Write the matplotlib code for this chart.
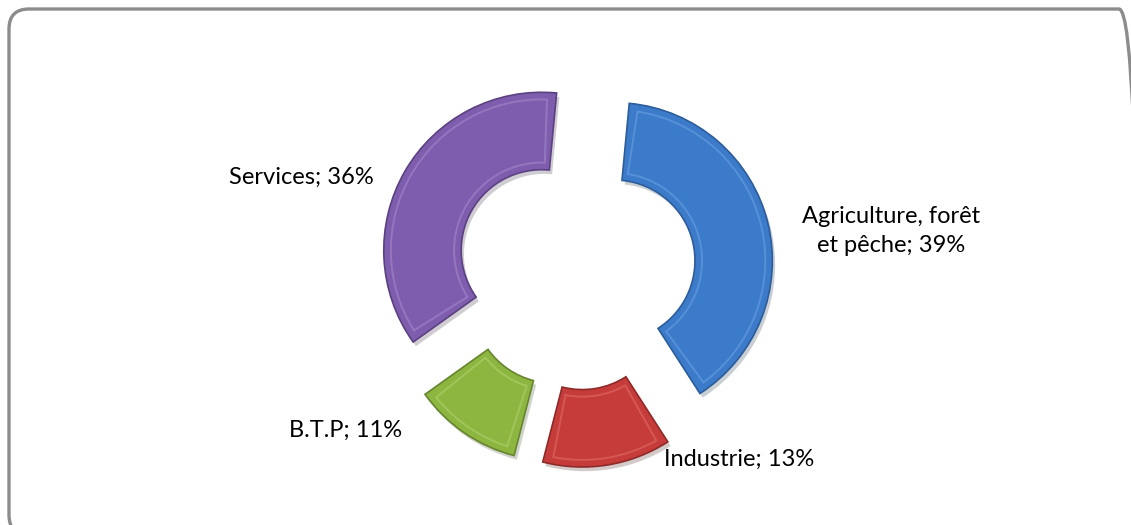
import matplotlib
matplotlib.use("Agg")
import matplotlib.pyplot as plt
import matplotlib.patches as mpatches
import matplotlib.patheffects as pe

categories = ["Agriculture, forêt\net pêche", "Industrie", "B.T.P", "Services"]
shares = [39, 13, 11, 36]
colors = ["#3C7BCA", "#C63C3A", "#8DB640", "#7F5DAE"]
edge_colors = ["#2C5C99", "#8E2A28", "#66852E", "#5B4180"]
highlight_colors = ["#7FB0EA", "#EB8381", "#BEDC82", "#B59CDB"]

W, H = 1131, 525
fig = plt.figure(figsize=(W / 100, H / 100), dpi=100)

# rounded frame, partly cut off at right and bottom like the original
frame = mpatches.FancyBboxPatch((9, -10), 1130, 526,
                                boxstyle="round,pad=0,rounding_size=20",
                                transform=None, facecolor="none",
                                edgecolor="#8C8C8C", linewidth=2.4)
fig.patches.append(frame)

# pie geometry in pixels
cx, cy, R = 576, 270, 158
ax = fig.add_axes([0, 0, 1, 1])
wedges, _ = ax.pie(shares, radius=1, startangle=84.6, counterclock=False,
                   explode=[0.25] * len(shares), colors=colors,
                   wedgeprops=dict(width=0.49, linewidth=1.2))
ax.set_aspect("auto")
ax.set_xlim(-cx / R, (W - cx) / R)
ax.set_ylim(-(H - cy) / R, cy / R)
ax.axis("off")

for w, ec, hc in zip(wedges, edge_colors, highlight_colors):
    w.set_edgecolor(ec)
    w.set_path_effects([pe.SimplePatchShadow(offset=(2, -3), alpha=0.22),
                        pe.Normal()])
    # inner bevel ridge
    d = 0.045
    r = w.r
    inner = r - w.width
    dt = d / ((r + inner) / 2) * 57.3
    ridge = mpatches.Wedge(w.center, r - d, w.theta1 + dt, w.theta2 - dt,
                           width=w.width - 2 * d, facecolor="none",
                           edgecolor=hc, linewidth=1.4, alpha=0.4)
    ax.add_patch(ridge)

# data labels (pixel positions of the text centres)
label_pos = [(891, 231), (739, 459), (346, 430), (301, 177)]
for cat, val, (px, py) in zip(categories, shares, label_pos):
    fig.text(px / W, 1 - py / H, f"{cat}; {val}%", ha="center", va="center",
             fontsize=17, family="Lato", color="#000000", linespacing=1.45)

fig.savefig("out.png", dpi=100)
